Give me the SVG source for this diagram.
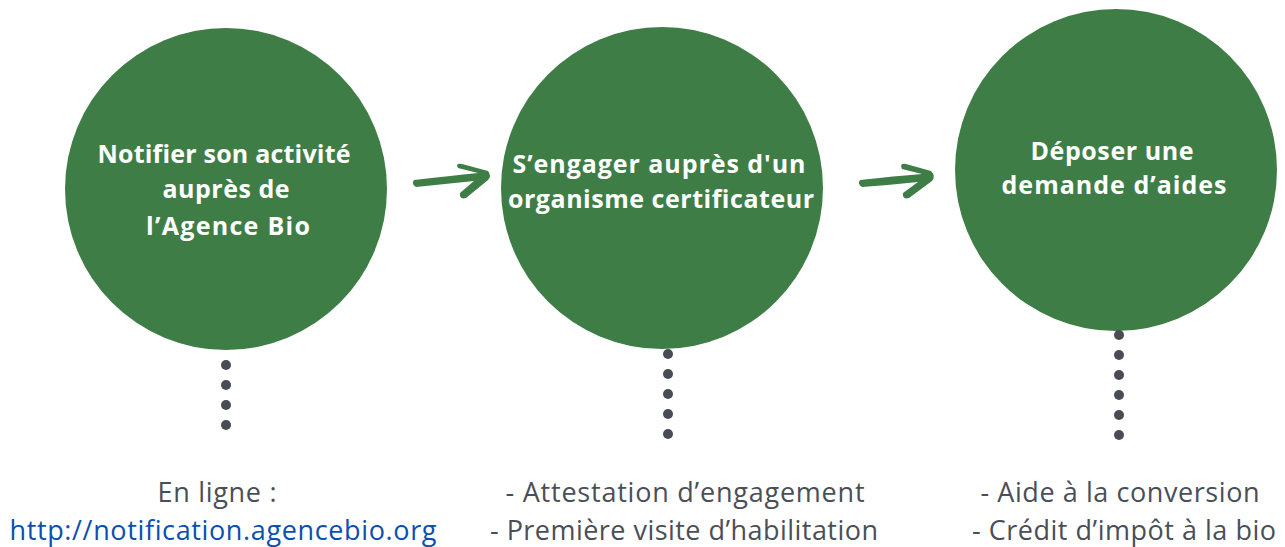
<svg xmlns="http://www.w3.org/2000/svg" width="1285" height="547" viewBox="0 0 1285 547">
<style>
.c{fill:#3f7d46}
.t{fill:#fff;font-family:"Open Sans",Lato,sans-serif;font-weight:bold;font-size:25px;text-anchor:middle;font-variant-ligatures:none}
.d{fill:#474c55}
.b{fill:#4a4f57;font-family:"Open Sans",Lato,sans-serif;font-size:27px;text-anchor:middle;font-variant-ligatures:none}
.u{fill:#0b4fb0}
.a{fill:#3f7d46}
</style>
<rect width="1285" height="547" fill="#fff"/>
<g id="n1">
<circle class="c" cx="226" cy="189" r="161"/>
<text class="t" x="224" y="163" textLength="253">Notifier son activité</text>
<text class="t" x="226" y="198" textLength="127">auprès de</text>
<text class="t" x="228" y="235" textLength="164">l’Agence Bio</text>
</g>
<g id="n2">
<circle class="c" cx="662" cy="188" r="161"/>
<text class="t" x="659" y="173" textLength="293">S’engager auprès d'un</text>
<text class="t" x="661" y="208" textLength="306">organisme certificateur</text>
</g>
<g id="n3">
<circle class="c" cx="1116" cy="170" r="161"/>
<text class="t" x="1112" y="160" textLength="163">Déposer une</text>
<text class="t" x="1114" y="194" textLength="225">demande d’aides</text>
</g>
<g id="connectors">
<path class="a" d="M414,180 Q450,176 478,173 L458,168 Q455,163 462,164 L488,171 Q492,176 488,180 L466,198 Q459,200 460,193 L474,181 Q445,184 416,187 Q411,184 414,180 Z"/>
<path class="a" d="M860,180 Q895,176 922,174 L902,169 Q899,163 906,164 L931,171 Q936,176 932,181 L909,198 Q902,200 903,193 L918,182 Q890,185 862,187 Q857,184 860,180 Z"/>
</g>
<g id="dots1">
<circle class="d" cx="226" cy="365" r="5"/><circle class="d" cx="226" cy="385" r="5"/><circle class="d" cx="226" cy="405" r="5"/><circle class="d" cx="226" cy="425" r="5"/>
</g>
<g id="dots2">
<circle class="d" cx="668" cy="354" r="5"/><circle class="d" cx="668" cy="374" r="5"/><circle class="d" cx="668" cy="394" r="5"/><circle class="d" cx="668" cy="414" r="5"/><circle class="d" cx="668" cy="434" r="5"/>
</g>
<g id="dots3">
<circle class="d" cx="1119" cy="335" r="5"/><circle class="d" cx="1119" cy="355" r="5"/><circle class="d" cx="1119" cy="375" r="5"/><circle class="d" cx="1119" cy="395" r="5"/><circle class="d" cx="1119" cy="415" r="5"/><circle class="d" cx="1119" cy="435" r="5"/>
</g>
<g id="label1">
<text class="b" x="217" y="502" textLength="119">En ligne :</text>
<text class="b u" x="223" y="540" textLength="427">http://notification.agencebio.org</text>
</g>
<g id="label2">
<text class="b" x="685" y="502" textLength="359">- Attestation d’engagement</text>
<text class="b" x="684" y="540" textLength="388">- Première visite d’habilitation</text>
</g>
<g id="label3">
<text class="b" x="1120" y="502" textLength="279">- Aide à la conversion</text>
<text class="b" x="1124" y="540" textLength="304">- Crédit d’impôt à la bio</text>
</g>
</svg>
